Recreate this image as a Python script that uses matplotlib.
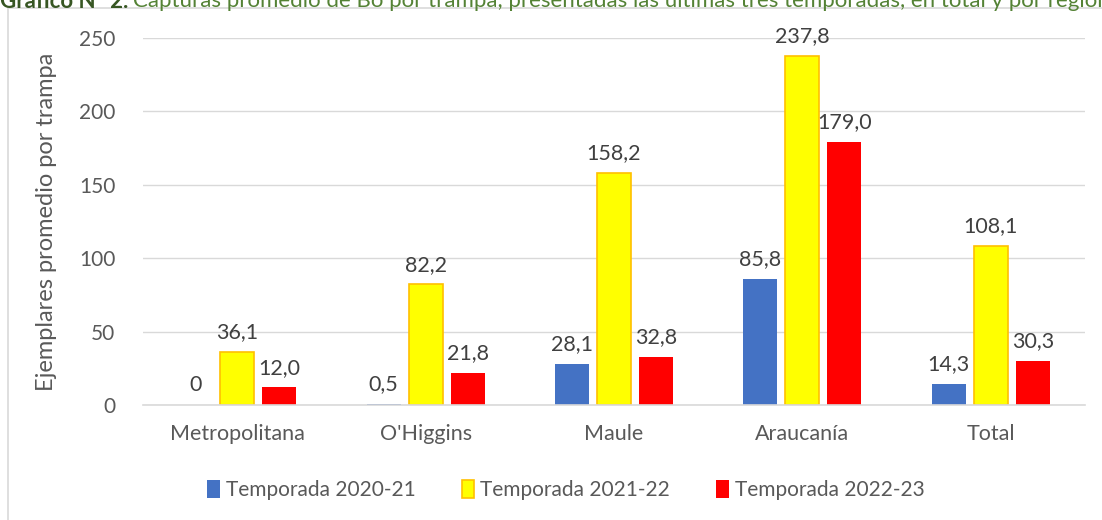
import matplotlib.pyplot as plt
import numpy as np
from matplotlib.patches import Rectangle

# data
regiones = ["Metropolitana", "O'Higgins", "Maule", "Araucanía", "Total"]
t2020 = [0, 0.5, 28.1, 85.8, 14.3]
t2021 = [36.1, 82.2, 158.2, 237.8, 108.1]
t2022 = [12.0, 21.8, 32.8, 179.0, 30.3]
etiquetas_2020 = ["0", "0,5", "28,1", "85,8", "14,3"]
etiquetas_2021 = ["36,1", "82,2", "158,2", "237,8", "108,1"]
etiquetas_2022 = ["12,0", "21,8", "32,8", "179,0", "30,3"]
series = ["Temporada 2020-21", "Temporada 2021-22", "Temporada 2022-23"]

plt.rcParams['font.family'] = ['Lato', 'DejaVu Sans']
gris = '#595959'

fig = plt.figure(figsize=(11.02, 5.2), dpi=100)
ax = fig.add_axes([143/1102, 1 - 405/520, 942/1102, (405 - 38)/520])

x = np.arange(len(regiones))
w = 0.18
off = 0.223

b1 = ax.bar(x - off, t2020, w, color='#4472C4', label=series[0])
b2 = ax.bar(x, t2021, w, color='#FFFF00', edgecolor='#FFC000', linewidth=1.2, label=series[1])
b3 = ax.bar(x + off, t2022, w, color='#FF0000', label=series[2])

for bars, labs in [(b1, etiquetas_2020), (b2, etiquetas_2021), (b3, etiquetas_2022)]:
    ax.bar_label(bars, labels=labs, padding=7, fontsize=15.5, color='#404040')

ax.set_xlim(-0.5, 4.5)
ax.set_ylim(0, 250)
ax.set_yticks(range(0, 251, 50))
ax.set_xticks(x)
ax.set_xticklabels(regiones, fontsize=15.5, color=gris)
ax.tick_params(axis='y', labelsize=15, labelcolor=gris, length=0, pad=20)
ax.tick_params(axis='x', length=0, pad=14)
ax.grid(axis='y', color='#D9D9D9', linewidth=1)
ax.set_axisbelow(True)
for s in ['top', 'right', 'left']:
    ax.spines[s].set_visible(False)
ax.spines['bottom'].set_color('#D9D9D9')
ax.spines['bottom'].set_linewidth(1.2)

ax.set_ylabel("Ejemplares promedio por trampa", fontsize=17, color=gris, labelpad=16)

fig.legend(loc='center', bbox_to_anchor=(566/1102, 1 - 490/520), ncol=3, frameon=False,
           fontsize=15, labelcolor=gris, handlelength=0.6, handleheight=1.0,
           handletextpad=0.3, columnspacing=2.2)

# chart frame
fig.patches.append(Rectangle((8/1102, -0.01), 1.02, 1 - 8/520 + 0.01, transform=fig.transFigure,
                             fill=False, edgecolor='#D9D9D9', linewidth=1.2))

# caption, cut off at the top like in the original
fig.text(0, 1 - 1/520, "Gráfico N° 2.", fontsize=16, fontweight='bold', color='#375623',
         va='center', ha='left')
fig.text(133/1102, 1 - 1/520,
         "Capturas promedio de Bo por trampa, presentadas las últimas tres temporadas, en total y por región",
         fontsize=16, color='#548235', va='center', ha='left')

fig.savefig('out.png', dpi=100)
